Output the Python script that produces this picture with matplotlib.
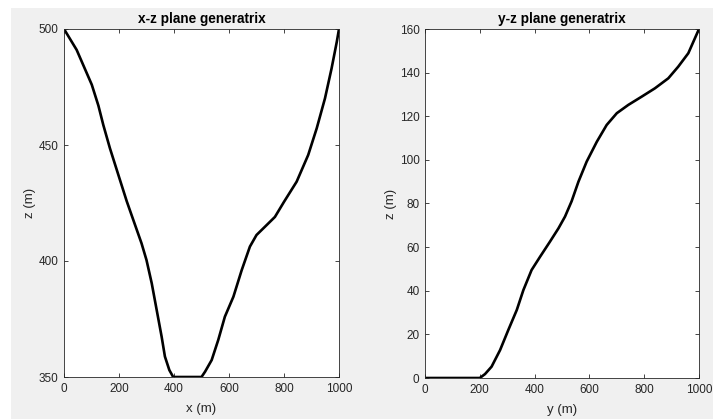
import matplotlib
matplotlib.use("Agg")
import matplotlib.pyplot as plt
from matplotlib.patches import Rectangle

# x-z plane generatrix
xz_x = [0, 46, 101, 125, 143, 167, 198, 228, 252, 282, 300, 319, 337, 355, 367,
        383, 397, 500, 513, 537, 561, 585, 616, 646, 676, 700, 731, 767, 800,
        846, 888, 919, 949, 973, 992, 1000]
xz_z = [500, 491, 476, 467, 458.6, 448.6, 437, 425.8, 417.7, 407.6, 400.4, 390.4,
        378.9, 367.4, 358.8, 353, 350, 350, 352.3, 357.3, 366, 376, 384.6, 396,
        406.2, 411.2, 414.8, 419, 425.5, 434.2, 445.7, 457.2, 470.1, 483, 494.5, 500]

# y-z plane generatrix
yz_y = [0, 200, 219, 243, 274, 304, 335, 359, 389, 420, 456, 487, 511, 535, 560,
        590, 627, 663, 700, 742, 791, 839, 888, 924, 961, 1000]
yz_z = [0, 0, 1.8, 5.2, 12.8, 22, 31.2, 40.3, 49.5, 55.6, 62.5, 68.6, 74, 81,
        90, 99.2, 108.3, 116, 121.4, 125.2, 129, 132.8, 137.4, 142.7, 148.9, 160]

plt.rcParams["font.family"] = ["Liberation Sans", "DejaVu Sans"]
plt.rcParams["font.size"] = 8.5

fig = plt.figure(figsize=(7.13, 4.19), dpi=100)
fig.patch.set_facecolor("white")
W, H = 713, 419
fig.patches.append(Rectangle((11 / W, 0), 1 - 11 / W, 1 - 8 / H,
                             transform=fig.transFigure, facecolor="#f0f0f0",
                             edgecolor="none", zorder=-10))

ax1 = fig.add_axes([64 / W, 1 - 377 / H, 275 / W, 348 / H])
ax2 = fig.add_axes([425 / W, 1 - 378 / H, 274 / W, 349 / H])

panels = [
    (ax1, xz_x, xz_z, "x-z plane generatrix", "x (m)", (350, 500), [350, 400, 450, 500]),
    (ax2, yz_y, yz_z, "y-z plane generatrix", "y (m)", (0, 160), list(range(0, 161, 20))),
]

for ax, xs, zs, title, xlabel, ylim, yticks in panels:
    ax.plot(xs, zs, color="black", linewidth=1.9, solid_joinstyle="round",
            solid_capstyle="round")
    ax.set_xlim(0, 1000)
    ax.set_ylim(*ylim)
    ax.set_xticks([0, 200, 400, 600, 800, 1000])
    ax.set_yticks(yticks)
    ax.set_title(title, fontsize=9.8, fontweight="bold", pad=4)
    ax.set_xlabel(xlabel, fontsize=9.5, color="#262626", labelpad=6)
    ax.set_ylabel("z (m)", fontsize=9.5, color="#262626", labelpad=2)
    ax.tick_params(direction="in", length=3, width=0.6, colors="#262626",
                   top=True, right=True, labelcolor="#262626", pad=4)
    for s in ax.spines.values():
        s.set_color("#262626")
        s.set_linewidth(0.6)

fig.savefig("out.png", dpi=100)
